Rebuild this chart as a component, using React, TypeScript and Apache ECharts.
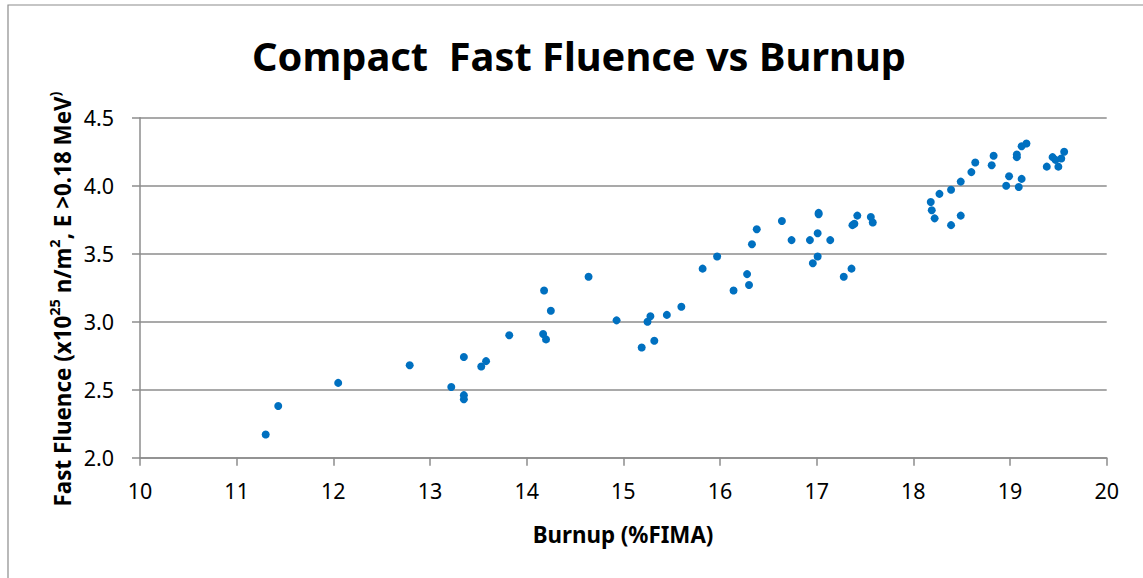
import React, { useEffect, useRef } from "react";
import * as echarts from "echarts";

const chartTitle = "Compact  Fast Fluence vs Burnup";
const xAxisTitle = "Burnup (%FIMA)";

const burnup = [
  11.30, 11.43, 12.05, 12.79, 13.22, 13.35, 13.35, 13.35, 13.53, 13.58,
  13.82, 14.18, 14.25, 14.17, 14.20, 14.64, 14.93, 15.19, 15.25, 15.28,
  15.32, 15.45, 15.60, 15.82, 15.97, 16.14, 16.28, 16.30, 16.33, 16.38,
  16.64, 16.74, 16.93, 16.96, 17.01, 17.01, 17.02, 17.02, 17.14, 17.28,
  17.36, 17.37, 17.39, 17.42, 17.56, 17.58, 18.18, 18.19, 18.22, 18.27,
  18.39, 18.39, 18.49, 18.49, 18.60, 18.64, 18.81, 18.83, 18.96, 18.99,
  19.07, 19.07, 19.09, 19.12, 19.12, 19.17, 19.38, 19.44, 19.47, 19.50,
  19.53, 19.56,
];

const fluence = [
  2.17, 2.38, 2.55, 2.68, 2.52, 2.74, 2.46, 2.43, 2.67, 2.71,
  2.90, 3.23, 3.08, 2.91, 2.87, 3.33, 3.01, 2.81, 3.00, 3.04,
  2.86, 3.05, 3.11, 3.39, 3.48, 3.23, 3.35, 3.27, 3.57, 3.68,
  3.74, 3.60, 3.60, 3.43, 3.65, 3.48, 3.80, 3.79, 3.60, 3.33,
  3.39, 3.71, 3.72, 3.78, 3.77, 3.73, 3.88, 3.82, 3.76, 3.94,
  3.71, 3.97, 3.78, 4.03, 4.10, 4.17, 4.15, 4.22, 4.00, 4.07,
  4.21, 4.23, 3.99, 4.05, 4.29, 4.31, 4.14, 4.21, 4.19, 4.14,
  4.20, 4.25,
];

const FONT = "'Noto Sans', 'Open Sans', sans-serif";
const GRID_COLOR = "#8c8c8c";

export default function App() {
  const ref = useRef<HTMLDivElement>(null);

  useEffect(() => {
    if (!ref.current) return;
    const chart = echarts.init(ref.current, undefined, { renderer: "svg" });
    const points = burnup.map((b, i) => [b, fluence[i]]);
    chart.setOption({
      animation: false,
      backgroundColor: "#ffffff",
      grid: { left: 140, right: 36.3, top: 117.7, bottom: 120.3, containLabel: false },
      xAxis: {
        type: "value",
        min: 10,
        max: 20,
        interval: 1,
        axisLine: { show: true, onZero: false, lineStyle: { color: GRID_COLOR, width: 1.5 } },
        axisTick: { show: true, inside: false, length: 8, lineStyle: { color: GRID_COLOR, width: 1.5 } },
        axisLabel: { margin: 22, fontSize: 21.5, fontFamily: FONT, color: "#000" },
        splitLine: { show: false },
      },
      yAxis: {
        type: "value",
        min: 2,
        max: 4.5,
        interval: 0.5,
        axisLine: { show: true, onZero: false, lineStyle: { color: GRID_COLOR, width: 1.5 } },
        axisTick: { show: true, inside: false, length: 8, lineStyle: { color: GRID_COLOR, width: 1.5 } },
        axisLabel: {
          margin: 26,
          fontSize: 21.5,
          fontFamily: FONT,
          color: "#000",
          formatter: (v: number) => v.toFixed(1),
        },
        splitLine: { show: true, lineStyle: { color: GRID_COLOR, width: 1.5 } },
      },
      series: [
        {
          type: "scatter",
          data: points,
          symbol: "circle",
          symbolSize: 8,
          itemStyle: { color: "#0070C0", opacity: 1 },
        },
      ],
      graphic: [
        {
          type: "rect",
          shape: { x: 8, y: 5, width: 1200, height: 700 },
          style: { fill: "none", stroke: GRID_COLOR, lineWidth: 1.2 },
          silent: true,
          z: -10,
        },
        {
          type: "text",
          x: 579,
          y: 55,
          style: {
            text: chartTitle,
            fontFamily: FONT,
            fontWeight: "bold",
            fontSize: 39.8,
            fill: "#000",
            align: "center",
            verticalAlign: "middle",
          },
        },
        {
          type: "text",
          x: 623,
          y: 534,
          style: {
            text: xAxisTitle,
            fontFamily: FONT,
            fontWeight: "bold",
            fontSize: 22.3,
            fill: "#000",
            align: "center",
            verticalAlign: "middle",
          },
        },
        {
          type: "text",
          x: 60,
          y: 299,
          rotation: Math.PI / 2,
          style: {
            text: "{a|Fast Fluence (x10}{s|25}{a| n/m}{s|2}{a|, E >0.18 MeV}{s|)}",
            align: "center",
            verticalAlign: "middle",
            fill: "#000",
            rich: {
              a: { fontFamily: FONT, fontWeight: "bold", fontSize: 22.4, lineHeight: 27, verticalAlign: "bottom" },
              s: { fontFamily: FONT, fontWeight: "bold", fontSize: 14.5, lineHeight: 27, verticalAlign: "top", padding: [0, 0, 6, 0] },
            },
          },
        },
      ],
    });
    return () => chart.dispose();
  }, []);

  return (
    <div
      ref={ref}
      style={{ position: "fixed", left: 0, top: 0, width: 1143, height: 578 }}
    />
  );
}
